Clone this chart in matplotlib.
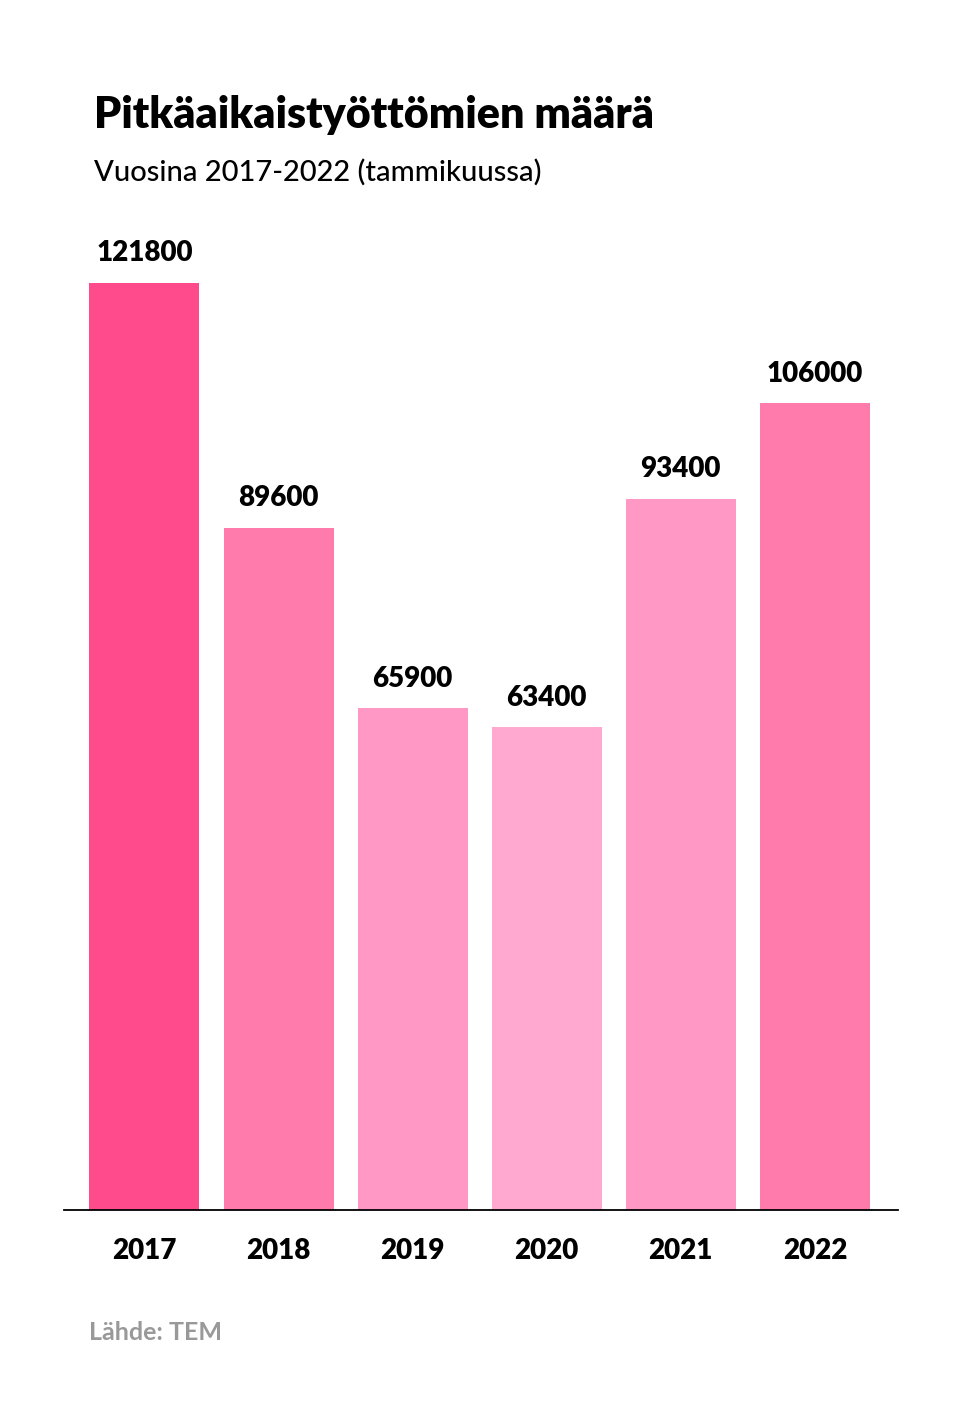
import matplotlib
matplotlib.use("Agg")
import matplotlib.pyplot as plt

years = ["2017", "2018", "2019", "2020", "2021", "2022"]
values = [121800, 89600, 65900, 63400, 93400, 106000]
colors = ["#FF4A8B", "#FF7BAB", "#FF98C4", "#FFA9D1", "#FF98C4", "#FF7BAB"]

plt.rcParams['font.family'] = ['Lato', 'DejaVu Sans']
W, H = 959, 1422
fig = plt.figure(figsize=(W/100, H/100), dpi=100)
top_px, base_px, left_px, right_px = 200, 1210, 64, 898
ax = fig.add_axes([left_px/W, 1-base_px/H, (right_px-left_px)/W, (base_px-top_px)/H])
x = list(range(len(years)))
ax.bar(x, values, width=0.82, color=colors)
ax.set_xlim(-0.6, 5.62)
ax.set_ylim(0, 121800*(base_px-top_px)/(base_px-283))
for xi, v in zip(x, values):
    ax.text(xi, v + 2200, str(v), ha='center', va='bottom', fontsize=20, fontweight='heavy')
ax.set_xticks(x)
ax.set_xticklabels(years, fontsize=20, fontweight='heavy')
ax.tick_params(axis='x', length=0, pad=20)
ax.set_yticks([])
for s in ['top', 'left', 'right']:
    ax.spines[s].set_visible(False)
ax.spines['bottom'].set_linewidth(1.3)

fig.text(94/W, 1-115/H, "Pitkäaikaistyöttömien määrä", fontsize=31, fontweight='heavy', va='center')
fig.text(94/W, 1-172/H, "Vuosina 2017-2022 (tammikuussa)", fontsize=21, fontweight='medium', va='center')
fig.text(89/W, 1-1333/H, "Lähde: TEM", fontsize=18, fontweight='bold', color='#999999', va='center')
fig.savefig("out.png", dpi=100)
